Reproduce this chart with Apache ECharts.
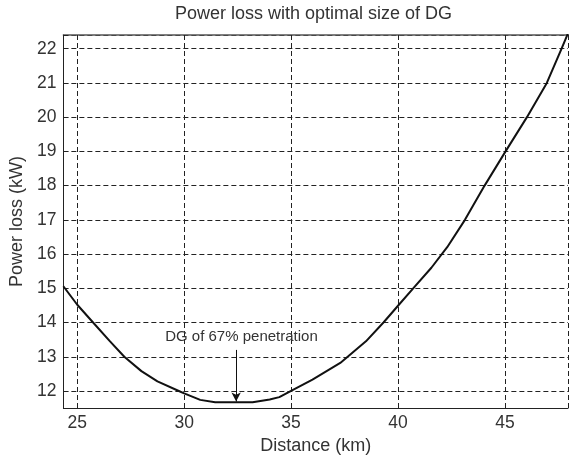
<!DOCTYPE html>
<html>
<head>
<meta charset="utf-8">
<script src="https://cdn.jsdelivr.net/npm/echarts@6/dist/echarts.min.js"></script>
<style>
html,body{margin:0;padding:0;background:#fff;}
#chart{width:571px;height:460px;}
</style>
</head>
<body>
<div id="chart"></div>
<script>
const distance = [24.35, 25.0, 25.74, 26.5, 27.2, 28.0, 28.75, 29.75, 30.0, 30.75, 31.45, 33.2, 34.0, 34.45, 35.0, 36.0, 37.3, 38.5, 39.32, 40.0, 40.71, 41.56, 42.3, 43.13, 44.05, 45.03, 46.03, 46.96, 47.65, 47.95];
const powerLoss = [15.06, 14.52, 14.0, 13.47, 13.0, 12.58, 12.28, 12.0, 11.93, 11.74, 11.67, 11.67, 11.75, 11.82, 12.0, 12.33, 12.82, 13.45, 14.0, 14.49, 15.0, 15.6, 16.2, 17.0, 18.0, 19.0, 20.0, 21.0, 22.0, 22.45];
const xTicks = [25, 30, 35, 40, 45];
const yTicks = [12, 13, 14, 15, 16, 17, 18, 19, 20, 21, 22];
const annotationText = 'DG of 67% penetration';
const annotationX = 32.43;
const annotationFrom = 13.2;
const annotationTo = 11.69;
const annotationTextPos = [32.68, 13.57];

const FONT = "'Liberation Sans', Arial, sans-serif";
const TXT = '#333';
const seriesData = distance.map((d, i) => [d, powerLoss[i]]);

const gridLine = {show: true, lineStyle: {color: '#222', width: 1, type: [5, 3]}};
const chart = echarts.init(document.getElementById('chart'), null, {renderer: 'canvas'});
chart.setOption({
  animation: false,
  backgroundColor: '#fff',
  title: {
    text: 'Power loss with optimal size of DG',
    left: 175, top: 5, padding: 0,
    textStyle: {fontFamily: FONT, fontSize: 18, fontWeight: 'normal', color: TXT}
  },
  grid: {left: 62, right: 0, top: 35, bottom: 47, containLabel: false},
  xAxis: [{
    type: 'value', min: 24.35, max: 47.95, splitNumber: 5,
    name: 'Distance (km)', nameLocation: 'middle', nameGap: 27,
    nameTextStyle: {fontFamily: FONT, fontSize: 18, color: TXT},
    axisLine: {show: true, onZero: false, lineStyle: {color: '#222', width: 1}},
    axisTick: {show: true, inside: true, length: 5, lineStyle: {color: '#222'}},
    axisLabel: {fontFamily: FONT, fontSize: 17.5, color: TXT, margin: 6,
      formatter: v => xTicks.includes(Math.round(v * 100) / 100) ? String(Math.round(v)) : ''},
    splitLine: gridLine
  }, {
    type: 'value', position: 'top', min: 24.35, max: 47.95, splitNumber: 5,
    axisLine: {show: true, onZero: false, lineStyle: {color: '#555', width: 1.5}},
    axisTick: {show: true, inside: true, length: 5, lineStyle: {color: '#222'}},
    axisLabel: {show: false},
    splitLine: {show: false}
  }],
  yAxis: [{
    type: 'value', min: 11.5, max: 22.4, splitNumber: 10,
    name: 'Power loss (kW)', nameLocation: 'middle', nameGap: 34, nameRotate: 90,
    nameTextStyle: {fontFamily: FONT, fontSize: 18, color: TXT},
    axisLine: {show: true, onZero: false, lineStyle: {color: '#222', width: 1}},
    axisTick: {show: true, inside: true, length: 5, lineStyle: {color: '#222'}},
    axisLabel: {fontFamily: FONT, fontSize: 17.5, color: TXT, margin: 7,
      formatter: v => yTicks.includes(Math.round(v * 100) / 100) ? String(Math.round(v)) : ''},
    splitLine: gridLine
  }],
  series: [{
    type: 'line',
    data: seriesData,
    showSymbol: false, symbol: 'none', smooth: false, clip: true,
    lineStyle: {color: '#111', width: 2},
    markLine: {
      silent: true,
      symbol: ['none', 'arrow'], symbolSize: [7, 9],
      lineStyle: {color: '#111', width: 1, type: 'solid'},
      label: {show: false},
      data: [[{coord: [annotationX, annotationFrom]}, {coord: [annotationX, annotationTo]}]]
    },
    markPoint: {
      silent: true, symbol: 'circle', symbolSize: 0,
      label: {show: true, position: 'inside', formatter: annotationText,
        fontFamily: FONT, fontSize: 15, color: TXT},
      data: [{coord: annotationTextPos}]
    }
  }]
});
</script>
</body>
</html>
